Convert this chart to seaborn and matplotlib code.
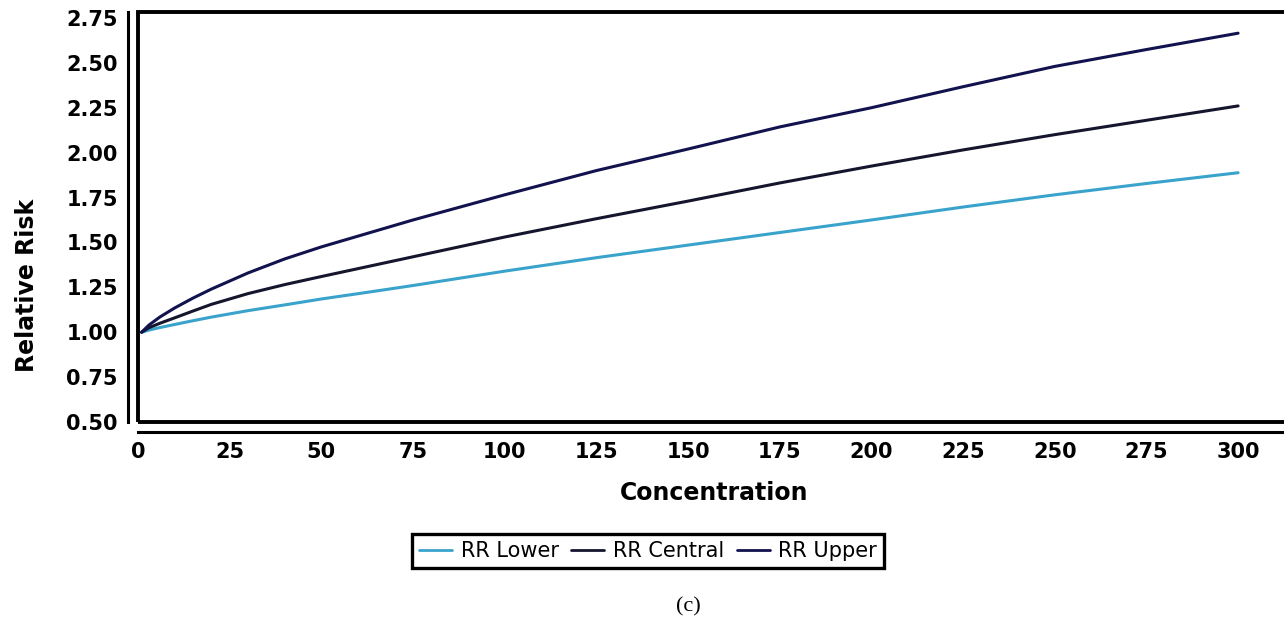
import pandas as pd
import matplotlib.pyplot as plt
import seaborn as sns

# Values
concentration = [1, 3, 6, 10, 15, 20, 30, 40, 50, 62.5, 75, 87.5, 100, 125, 150,
                 175, 200, 225, 250, 275, 300]
rr_lower = [1.00, 1.012, 1.026, 1.043, 1.064, 1.084, 1.12, 1.152, 1.185, 1.222, 1.26,
            1.30, 1.34, 1.415, 1.485, 1.555, 1.625, 1.697, 1.765, 1.828, 1.888]
rr_central = [1.00, 1.025, 1.05, 1.08, 1.118, 1.155, 1.215, 1.265, 1.31, 1.365, 1.42,
              1.475, 1.53, 1.632, 1.73, 1.831, 1.925, 2.015, 2.10, 2.18, 2.26]
rr_upper = [1.00, 1.04, 1.085, 1.135, 1.19, 1.24, 1.33, 1.408, 1.475, 1.55, 1.625,
            1.695, 1.765, 1.90, 2.02, 2.143, 2.25, 2.367, 2.48, 2.574, 2.665]

series_names = ['RR Lower', 'RR Central', 'RR Upper']
colors = ['#3aa3cc', '#15152e', '#12124f']

df = pd.concat([
    pd.DataFrame({'Concentration': concentration, 'RR': vals, 'Series': name})
    for name, vals in zip(series_names, [rr_lower, rr_central, rr_upper])
])

sns.set_style('white')
plt.rcParams['font.family'] = ['DejaVu Sans']
plt.rcParams['text.color'] = 'black'
plt.rcParams['axes.labelcolor'] = 'black'
plt.rcParams['xtick.color'] = 'black'
plt.rcParams['ytick.color'] = 'black'

fig = plt.figure(figsize=(12.84, 6.30), dpi=100)
W, H = 1284, 630
ax = fig.add_axes([138 / W, (H - 422) / H, (1300 - 138) / W, (422 - 12) / H])

sns.lineplot(data=df, x='Concentration', y='RR', hue='Series', palette=colors,
             hue_order=series_names, linewidth=2.2, ax=ax, legend=False)

ax.set_xlim(0, (1300 - 138) / 3.667)
ax.set_ylim(0.5, 2.783)
ax.set_xticks(range(0, 301, 25))
ax.set_yticks([0.5 + 0.25 * i for i in range(10)])
ax.set_yticklabels([f'{0.5 + 0.25 * i:.2f}' for i in range(10)])

# offset axis lines, as in the original
for side in ['left', 'bottom']:
    ax.spines[side].set_position(('outward', 7.5))
    ax.spines[side].set_linewidth(2.2)
    ax.spines[side].set_color('black')
for side in ['top', 'right']:
    ax.spines[side].set_visible(False)

# inner frame around the plot area
frame = plt.Rectangle((0, 0), 1, 1, transform=ax.transAxes, fill=False,
                      edgecolor='black', linewidth=2.8, clip_on=False, zorder=5)
ax.add_patch(frame)

ax.tick_params(axis='both', which='major', direction='out', length=3, width=2,
               color='black', labelsize=15, pad=4)
for lbl in ax.get_xticklabels() + ax.get_yticklabels():
    lbl.set_fontweight('bold')

ax.set_xlabel('Concentration', fontsize=17, fontweight='bold')
ax.set_ylabel('Relative Risk', fontsize=17, fontweight='bold')
ax.xaxis.set_label_coords((714 - 138) / 1162, (422 - 481) / 410)
ax.yaxis.set_label_coords((39 - 138) / 1162, (422 - 285) / 410)

handles = [plt.Line2D([], [], color=c, linewidth=2) for c in colors]
leg = fig.legend(handles, series_names, loc='center', ncol=3,
                 bbox_to_anchor=(648 / W, 1 - 551 / H), fontsize=15,
                 frameon=True, fancybox=False, framealpha=1, handlelength=1.6,
                 handletextpad=0.4, columnspacing=0.6, borderpad=0.35)
leg.get_frame().set_edgecolor('black')
leg.get_frame().set_linewidth(2.4)

fig.text(688 / W, 1 - 607 / H, '(c)', ha='center', va='center', fontsize=16,
         family=['Liberation Serif', 'DejaVu Serif'])

plt.savefig('out.png', dpi=100)
plt.close()
